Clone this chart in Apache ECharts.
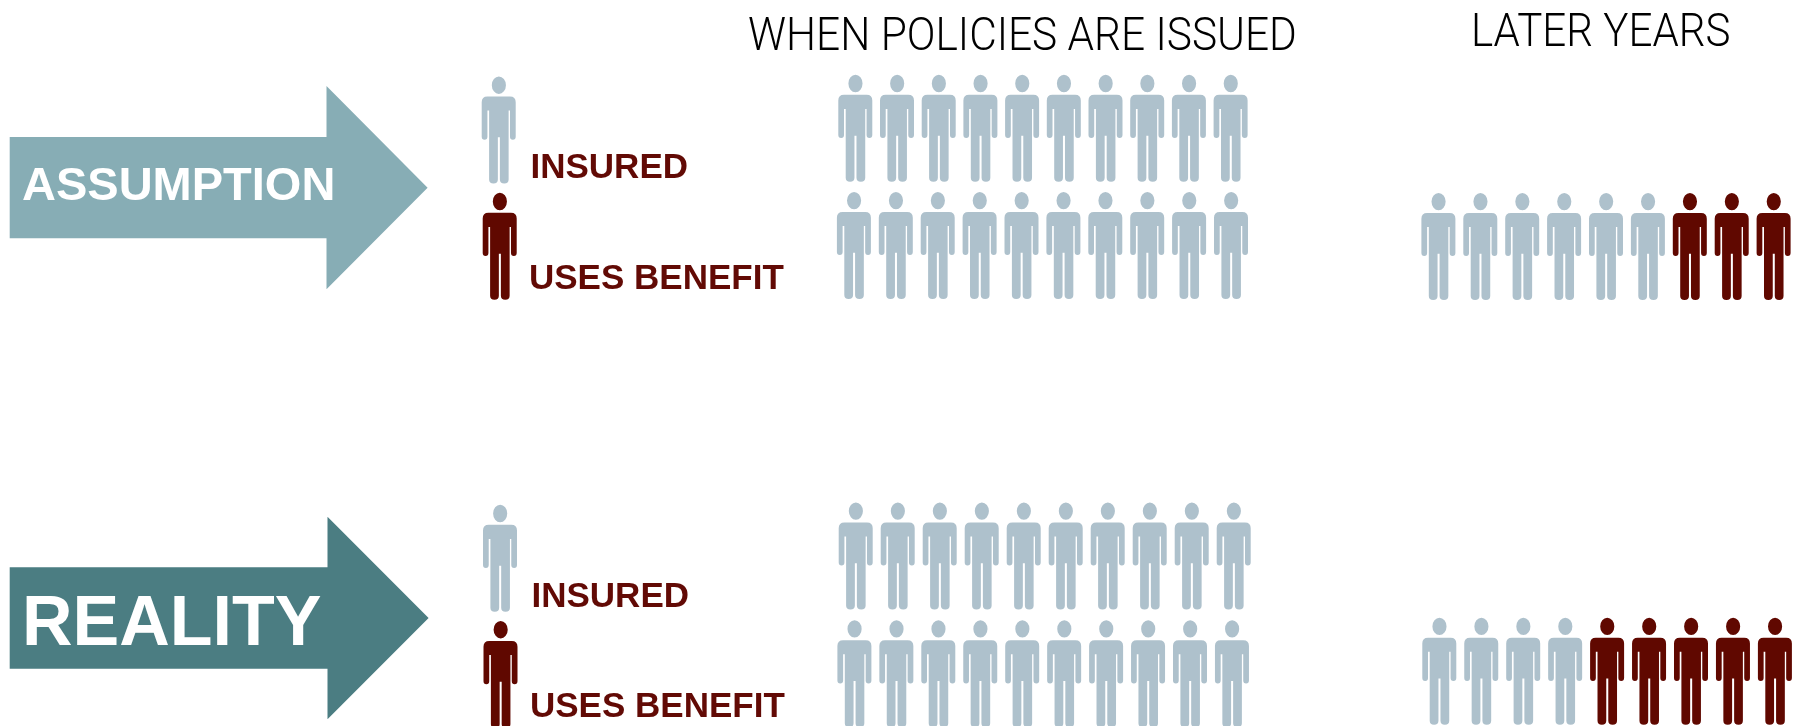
<!DOCTYPE html>
<html>
<head>
<meta charset="utf-8">
<style>html,body{margin:0;padding:0;background:#fff}#chart{width:1802px;height:726px}</style>
<script src="https://cdn.jsdelivr.net/npm/echarts@6/dist/echarts.min.js"></script>
</head>
<body>
<div id="chart"></div>
<script>
// People counted in each row of the pictogram.
const rowNames = [
  'Assumption key: insured', 'Assumption key: uses benefit',
  'Assumption at issue, upper', 'Assumption at issue, lower', 'Assumption later years',
  'Reality key: insured', 'Reality key: uses benefit',
  'Reality at issue, upper', 'Reality at issue, lower', 'Reality later years'
];
const insuredCounts = [1, 0, 10, 10, 6, 1, 0, 10, 10, 4];
const benefitCounts = [0, 1, 0, 0, 3, 0, 1, 0, 0, 5];
const statusNames = ['INSURED', 'USES BENEFIT'];
const columnTitles = ['WHEN POLICIES ARE ISSUED', 'LATER YEARS'];
const rowTitles = ['ASSUMPTION', 'REALITY'];

// Where each row sits on the page: centre of first person, column pitch, vertical centre.
const rowLayout = [
  [498.7, 42, 130], [499.7, 42, 246.3],
  [855.3, 41.7, 128.3], [853.9, 41.9, 245.4], [1438.4, 41.9, 246.4],
  [500, 42, 558.3], [500.5, 42, 674.5],
  [855.7, 42, 555.9], [854.4, 41.95, 673.7], [1439.3, 41.95, 671.2]
];

const LIGHT = '#aec1cc', DARK = '#600800', KEY_TEXT = '#620a05';
const ARROW_LIGHT = '#87adb5', ARROW_DARK = '#4b7d82';

// Standing figure drawn on a 101 x 320 box: head, then shoulders, arms and legs.
const person = 'path://M30 26A21 26 0 1 1 72 26A21 26 0 1 1 30 26Z' +
  'M17 60H84Q101 60 101 77V180Q101 189 92.5 189Q84 189 84 180V102H80V308Q80 320 67 320Q54 320 54 308V182H48V308Q48 320 35 320Q22 320 22 308V102H17V180Q17 189 8.5 189Q0 189 0 180V77Q0 60 17 60Z';

const grids = [], xAxes = [], yAxes = [], series = [];
rowNames.forEach((name, i) => {
  const [first, pitch, centre] = rowLayout[i];
  const total = insuredCounts[i] + benefitCounts[i];
  const seats = Array.from({ length: total }, (_, k) => String(k + 1));
  grids.push({ left: first - pitch / 2, width: pitch * total, top: centre - 40, height: 80 });
  xAxes.push({ type: 'category', gridIndex: i, data: seats, show: false });
  yAxes.push({ type: 'category', gridIndex: i, data: [name], show: false });
  [[0, insuredCounts[i], LIGHT], [insuredCounts[i], total, DARK]].forEach(([from, to, color], s) => {
    if (to > from) {
      series.push({
        type: 'scatter', name: statusNames[s], xAxisIndex: i, yAxisIndex: i,
        symbol: person, symbolSize: [34, 107], clip: false, silent: true,
        itemStyle: { color, opacity: 1 },
        data: seats.slice(from, to).map(seat => [seat, name])
      });
    }
  });
});

function arrow(left, neck, tip, midY, shaftHalf, headHalf, fill) {
  return {
    type: 'polygon',
    shape: { points: [
      [left, midY - shaftHalf], [neck, midY - shaftHalf], [neck, midY - headHalf], [tip, midY],
      [neck, midY + headHalf], [neck, midY + shaftHalf], [left, midY + shaftHalf]
    ] },
    style: { fill }
  };
}
function label(text, x, baseline, font, fill, scaleX) {
  return {
    type: 'text', x, y: baseline, scaleX: scaleX || 1,
    style: { text, x: 0, y: 0, font, fill, textAlign: 'left', textVerticalAlign: 'bottom' }
  };
}
const keyFont = 'bold 35px "Liberation Sans", Arial, sans-serif';
const headFont = '300 46.5px Roboto, "Liberation Sans", sans-serif';
const graphic = [
  arrow(9.7, 326.5, 427.6, 187.7, 50.6, 101.6, ARROW_LIGHT),
  arrow(9.7, 327.5, 428.6, 618, 50.7, 101.3, ARROW_DARK),
  label(rowTitles[0], 22, 211, 'bold 47px "Liberation Sans", Arial, sans-serif', '#fff'),
  label(rowTitles[1], 22, 661, 'bold 70px "Liberation Sans", Arial, sans-serif', '#fff'),
  label(statusNames[0], 530.5, 186, keyFont, KEY_TEXT),
  label(statusNames[1], 529, 297, keyFont, KEY_TEXT),
  label(statusNames[0], 531.5, 615, keyFont, KEY_TEXT),
  label(statusNames[1], 530, 725, keyFont, KEY_TEXT),
  label(columnTitles[0], 748, 62, headFont, '#000', 0.912),
  label(columnTitles[1], 1471, 58, headFont, '#000', 0.905)
];

const chart = echarts.init(document.getElementById('chart'), null, { renderer: 'canvas' });
chart.setOption({
  animation: false,
  backgroundColor: '#fff',
  grid: grids, xAxis: xAxes, yAxis: yAxes, series, graphic
});
</script>
</body>
</html>
